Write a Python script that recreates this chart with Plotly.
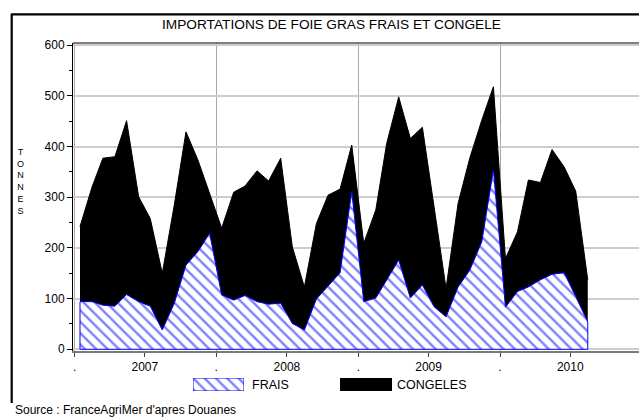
import plotly.graph_objects as go

W, H = 639, 417

# ---------------- data ----------------
years = [2007, 2008, 2009, 2010]
months = [f"{y}-{m:02d}-15" for y in years for m in range(1, 13)][:44]

frais = [94, 94, 87, 85, 108, 94, 85, 38, 91, 166, 193, 229,
         107, 97, 106, 94, 89, 91, 51, 38, 99, 124, 151, 311,
         94, 101, 137, 176, 101, 127, 84, 64, 123, 156, 212, 354,
         83, 114, 123, 137, 148, 151, 104, 54]

congeles = [148, 226, 290, 295, 343, 207, 173, 112, 194, 263, 180, 79,
            132, 213, 216, 258, 243, 286, 151, 85, 149, 180, 165, 92,
            115, 174, 269, 322, 315, 311, 196, 56, 165, 221, 240, 164,
            96, 118, 211, 192, 246, 209, 208, 83]

year_starts = [f"{y}-01-01" for y in years]
year_mids = [f"{y}-07-01" for y in years]
x_tickvals = [v for pair in zip(year_starts, year_mids) for v in pair]
x_ticktext = [t for y in years for t in (".", str(y))]
y_tickvals = [0, 100, 200, 300, 400, 500, 600]

title_text = "IMPORTATIONS DE FOIE GRAS FRAIS ET CONGELE"
ytitle_letters = list("TONNES")
legend_names = ["FRAIS", "CONGELES"]
source_text = "Source : FranceAgriMer d'apres Douanes"

BLUE = "#0000ff"
SANS = "Liberation Sans, Arial, sans-serif"


def px(x):
    return x / W


def py(y):
    return (H - y) / H


# plot area in pixels
PL, PR, PT, PB = 73, 639, 43, 351

HATCH = dict(shape="\\", fgcolor=BLUE, bgcolor="white", size=8, solidity=0.3)

fig = go.Figure()

fig.add_trace(go.Scatter(
    x=months, y=frais, name=legend_names[0], stackgroup="s", mode="lines",
    line=dict(color=BLUE, width=1),
    fillcolor="white", fillpattern=HATCH, showlegend=False,
))
fig.add_trace(go.Scatter(
    x=months, y=congeles, name=legend_names[1], stackgroup="s", mode="lines",
    line=dict(color="black", width=1), fillcolor="black", showlegend=False,
))
# blue outline of the hatched area (baseline and end edges)
fig.add_trace(go.Scatter(
    x=[months[0], months[0], months[-1], months[-1]],
    y=[frais[0], 0, 0, frais[-1]],
    mode="lines", line=dict(color=BLUE, width=1), showlegend=False, hoverinfo="skip",
))

# legend swatches in their own small subplots
fig.add_trace(go.Bar(
    x=[0], y=[1], width=[1], xaxis="x2", yaxis="y2", showlegend=False,
    marker=dict(color="white", line=dict(color=BLUE, width=1), pattern=HATCH),
))
fig.add_trace(go.Bar(
    x=[0], y=[1], width=[1], xaxis="x3", yaxis="y3", showlegend=False,
    marker=dict(color="black", line=dict(color="black", width=1)),
))

fig.update_layout(
    width=W, height=H,
    margin=dict(l=0, r=0, t=0, b=0),
    paper_bgcolor="white", plot_bgcolor="white",
    font=dict(family=SANS, size=12, color="black"),
    showlegend=False,
    bargap=0,
    xaxis=dict(
        domain=[px(PL), px(PR)], type="date",
        range=["2006-12-28", "2010-12-25"],
        tickmode="array", tickvals=x_tickvals, ticktext=x_ticktext,
        ticks="outside", ticklen=4, tickcolor="#444", tickangle=0,
        showgrid=False, zeroline=False,
        showline=True, linecolor="#7a7a7a", linewidth=2,
        minor=dict(tickmode="array", tickvals=year_starts, showgrid=True,
                   gridcolor="#a8a8a8", gridwidth=1, ticks=""),
        tickfont=dict(family=SANS, size=12),
        automargin=False, fixedrange=True,
    ),
    yaxis=dict(
        domain=[py(PB), py(PT)],
        range=[-3.4, 604.3],
        tickmode="array", tickvals=y_tickvals,
        ticks="outside", ticklen=5, tickcolor="black",
        minor=dict(dtick=50, ticks="outside", ticklen=3, tickcolor="black", showgrid=False),
        showgrid=True, gridcolor="#cdcdcd", gridwidth=2,
        zeroline=False, showline=True, linecolor="black", linewidth=1,
        tickfont=dict(family=SANS, size=12),
        automargin=False, fixedrange=True,
    ),
    xaxis2=dict(domain=[px(193), px(244)], range=[-0.5, 0.5], visible=False, anchor="y2"),
    yaxis2=dict(domain=[py(391), py(378)], range=[0, 1], visible=False, anchor="x2"),
    xaxis3=dict(domain=[px(340), px(392)], range=[-0.5, 0.5], visible=False, anchor="y3"),
    yaxis3=dict(domain=[py(391), py(378)], range=[0, 1], visible=False, anchor="x3"),
)

shapes = [
    # outer frame (top and left)
    dict(type="line", xref="paper", yref="paper", x0=px(11), x1=px(639), y0=py(14.3), y1=py(14.3),
         line=dict(color="black", width=2.2)),
    dict(type="line", xref="paper", yref="paper", x0=px(11.7), x1=px(11.7), y0=py(14), y1=py(403),
         line=dict(color="black", width=2.2)),
    # plot top border
    dict(type="line", xref="paper", yref="paper", x0=px(PL), x1=px(PR), y0=py(PT), y1=py(PT),
         line=dict(color="black", width=1)),
]
fig.update_layout(shapes=shapes)

ann = [
    dict(text=title_text, x=px(331), y=py(24.5), xref="paper", yref="paper",
         xanchor="center", yanchor="middle", showarrow=False,
         font=dict(family=SANS, size=13.7)),
    dict(text=legend_names[0], x=px(250), y=py(385), xref="paper", yref="paper",
         xanchor="left", yanchor="middle", showarrow=False,
         font=dict(family=SANS, size=12.5)),
    dict(text=legend_names[1], x=px(395), y=py(385), xref="paper", yref="paper",
         xanchor="left", yanchor="middle", showarrow=False,
         font=dict(family=SANS, size=12.5)),
    dict(text=source_text, x=px(12.5), y=py(409.5), xref="paper", yref="paper",
         xanchor="left", yanchor="middle", showarrow=False,
         font=dict(family=SANS, size=12)),
    dict(text="<br>".join(ytitle_letters), x=px(20.5), y=py(181.5), xref="paper", yref="paper",
         xanchor="center", yanchor="middle", showarrow=False, borderpad=0,
         font=dict(family=SANS, size=9)),
]
fig.update_layout(annotations=ann)

fig.write_html(
    "out.html",
    config={"displayModeBar": False, "staticPlot": True},
    post_script="document.body.style.margin='0';document.body.style.overflow='hidden';",
)
